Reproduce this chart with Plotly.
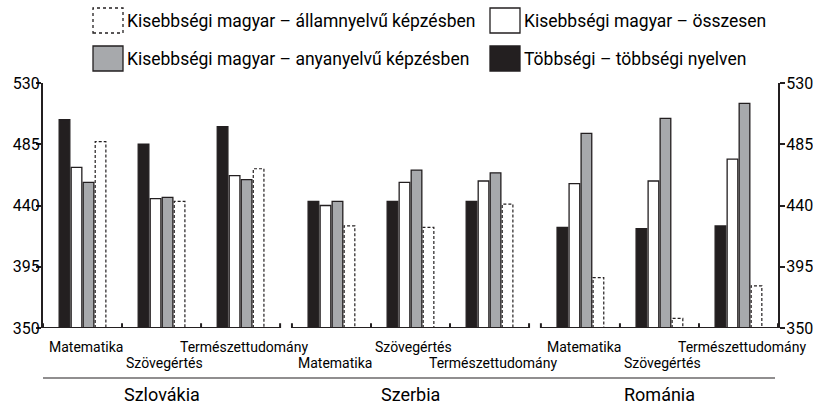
import plotly.graph_objects as go

# categories
countries = ['Szlovákia', 'Szerbia', 'Románia']
subjects = ['Matematika', 'Szövegértés', 'Természettudomány']

# series values, country by country, subjects in the order above
tobbsegi = [503, 485, 498, 443, 443, 443, 424, 423, 425]
osszesen = [468, 445, 462, 440, 457, 458, 456, 458, 474]
anyanyelvu = [457, 446, 459, 443, 466, 464, 493, 504, 515]
allamnyelvu = [487, 443, 467, 425, 424, 441, 387, 357, 381]

seriesNames = ['Többségi – többségi nyelven',
               'Kisebbségi magyar – összesen',
               'Kisebbségi magyar – anyanyelvű képzésben',
               'Kisebbségi magyar – államnyelvű képzésben']

yTicks = [350, 395, 440, 485, 530]

FONT = 'Roboto, Liberation Sans, sans-serif'
INK = '#231f20'
GREY = '#a7a9ac'

W, H = 813, 408
ML, MR, MT, MB = 43, 35, 83, 80
PW, PH = W - ML - MR, H - MT - MB

GAP = 0.15          # space between country blocks, in slot units
PITCH = 0.152       # bar pitch inside a group
BARW = 0.135
YMIN, YMAX = yTicks[0], yTicks[-1]

# slot centre for every country/subject pair
xs = [c * (3 + GAP) + s for c in range(len(countries)) for s in range(len(subjects))]
labels = [subjects[s] for c in range(len(countries)) for s in range(len(subjects))]


def offset(i):
    return -2 * PITCH + i * PITCH + (PITCH - BARW) / 2


def px(x):
    # pixel x -> paper
    return (x - ML) / PW


def py(y):
    # pixel y -> paper
    return (H - MB - y) / PH


fig = go.Figure()

fillStyles = [INK, 'white', GREY]
for i, vals in enumerate([tobbsegi, osszesen, anyanyelvu]):
    fig.add_trace(go.Bar(x=xs, y=vals, width=BARW, offset=offset(i), name=seriesNames[i],
                         marker=dict(color=fillStyles[i], line=dict(color=INK, width=1.3)),
                         showlegend=False))

# dashed outline bars (bar outlines cannot be dashed in plotly)
dx, dy = [], []
for x, v in zip(xs, allamnyelvu):
    x0 = x + offset(3)
    x1 = x0 + BARW
    dx += [x0, x0, x1, x1, None]
    dy += [YMIN, v, v, YMIN, None]
fig.add_trace(go.Scatter(x=dx, y=dy, mode='lines', name=seriesNames[3], yaxis='y2',
                         line=dict(color=INK, width=1.2, dash='3px,2px'), showlegend=False,
                         hoverinfo='skip'))

shapes = []
annotations = []

# broken baseline with small upward ticks
for c in range(len(countries)):
    start = c * (3 + GAP) - 0.5
    shapes.append(dict(type='line', xref='x', yref='y', x0=start, x1=start + 3, y0=YMIN, y1=YMIN,
                       line=dict(color=INK, width=2)))
    for k in range(4):
        shapes.append(dict(type='line', xref='x', yref='y', x0=start + k, x1=start + k,
                           y0=YMIN, y1=YMIN + 3.5, line=dict(color=INK, width=2)))
    annotations.append(dict(text=countries[c], xref='x', yref='paper', x=start + 1.5, y=py(394),
                            showarrow=False, yanchor='middle', font=dict(size=18, color='#000')))

# staggered subject labels
for j, (x, lab) in enumerate(zip(xs, labels)):
    annotations.append(dict(text=lab, xref='x', yref='paper', x=x + 0.04, y=py(347 if j % 2 == 0 else 363),
                            showarrow=False, yanchor='middle', font=dict(size=14, color='#000')))

shapes.append(dict(type='line', xref='paper', yref='paper', x0=px(43), x1=px(775), y0=py(378), y1=py(378),
                   line=dict(color=INK, width=1.2)))

# legend drawn by hand: dashed, white / grey, black
legendItems = [(3, 93, 8), (1, 490, 8), (2, 93, 46), (0, 490, 46)]
for idx, lx, ly in legendItems:
    if idx == 3:
        fill, dash = 'white', 'dot'
    elif idx == 1:
        fill, dash = 'white', 'solid'
    elif idx == 2:
        fill, dash = GREY, 'solid'
    else:
        fill, dash = INK, 'solid'
    shapes.append(dict(type='rect', xref='paper', yref='paper', x0=px(lx), x1=px(lx + 30),
                       y0=py(ly + 25), y1=py(ly), fillcolor=fill,
                       line=dict(color=INK, width=1.3, dash=dash)))
    annotations.append(dict(text=seriesNames[idx], xref='paper', yref='paper', x=px(lx + 32),
                            y=py(ly + 13), xanchor='left', yanchor='middle', showarrow=False,
                            font=dict(size=17.5, color='#000')))

axisStyle = dict(range=[YMIN, YMAX], tickvals=yTicks, showline=True, linecolor=INK, linewidth=2,
                 ticks='outside', ticklen=5, tickwidth=2, tickcolor=INK, showgrid=False, zeroline=False,
                 automargin=False, tickfont=dict(size=16, color='#000'))

fig.update_layout(
    width=W, height=H,
    margin=dict(l=ML, r=MR, t=MT, b=MB, pad=0),
    paper_bgcolor='white', plot_bgcolor='white',
    font=dict(family=FONT, color='#000'),
    barmode='overlay',
    showlegend=False,
    xaxis=dict(range=[-0.5, (len(countries) - 1) * (3 + GAP) + 2.5], showline=False, showticklabels=False,
               showgrid=False, zeroline=False, ticks='', automargin=False),
    yaxis=dict(**axisStyle, side='left', ticklabelstandoff=-7),
    yaxis2=dict(**axisStyle, side='right', overlaying='y', ticklabelstandoff=-2),
    shapes=shapes,
    annotations=annotations,
)

# drop the default page margin so the 813x408 figure fills the window
fig.write_html('out.html', config={'displayModeBar': False},
               post_script="document.body.style.margin='0';")
